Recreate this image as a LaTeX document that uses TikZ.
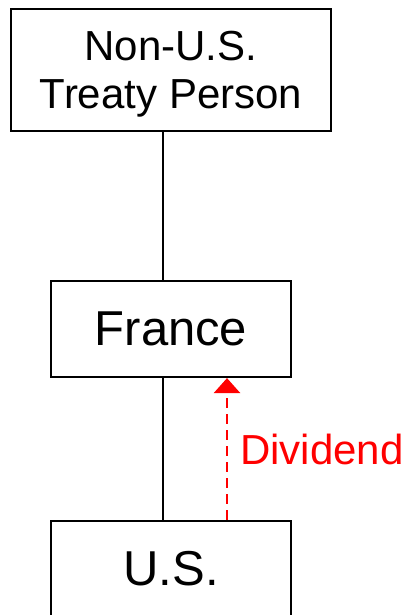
\documentclass[tikz,border=0pt]{standalone}
\usepackage{fontspec}
\setmainfont{Liberation Sans}
\usetikzlibrary{arrows.meta,calc}
\begin{document}
\begin{tikzpicture}[x=1pt,y=1pt,
  entity/.style={draw=black,line width=2.2pt,fill=white,inner sep=0pt,
    minimum width=240pt,minimum height=96pt,
    font=\fontsize{49}{56}\selectfont},
  link/.style={draw=black,line width=2pt},
  flow/.style={draw=red,line width=2.8pt,dash pattern=on 10pt off 6pt,
    -{Triangle[width=26pt,length=15pt]}},
  flowlabel/.style={text=red,inner sep=0pt,font=\fontsize{42}{48}\selectfont}]
  \useasboundingbox (0,0) rectangle (407,615);
  \begin{scope}
  \clip (0,0) rectangle (407,615);
  % owner at the top
  \node[entity,minimum width=320pt,minimum height=122pt,align=center,
        text depth=-8pt,font=\fontsize{42}{48}\selectfont] (owner) at (171,545)
        {Non-U.S.\\Treaty Person};
  % intermediate holding company
  \node[entity] (fr) at (171,286) {France};
  % U.S. subsidiary, running off the lower edge
  \node[entity] (us) at (171,46) {U.S.};
  % ownership links
  \draw[link] ($(owner.south)+(-8,0)$) -- ($(fr.north)+(-8,0)$);
  \draw[link] ($(fr.south)+(-8,0)$) -- ($(us.north)+(-8,0)$);
  % dividend paid upward
  \draw[flow] ($(us.north)+(56,0)$) -- ($(fr.south)+(56,0)$);
  \node[flowlabel,anchor=base west] (div) at (240,150) {Dividend};
  \end{scope}
\end{tikzpicture}
\end{document}
